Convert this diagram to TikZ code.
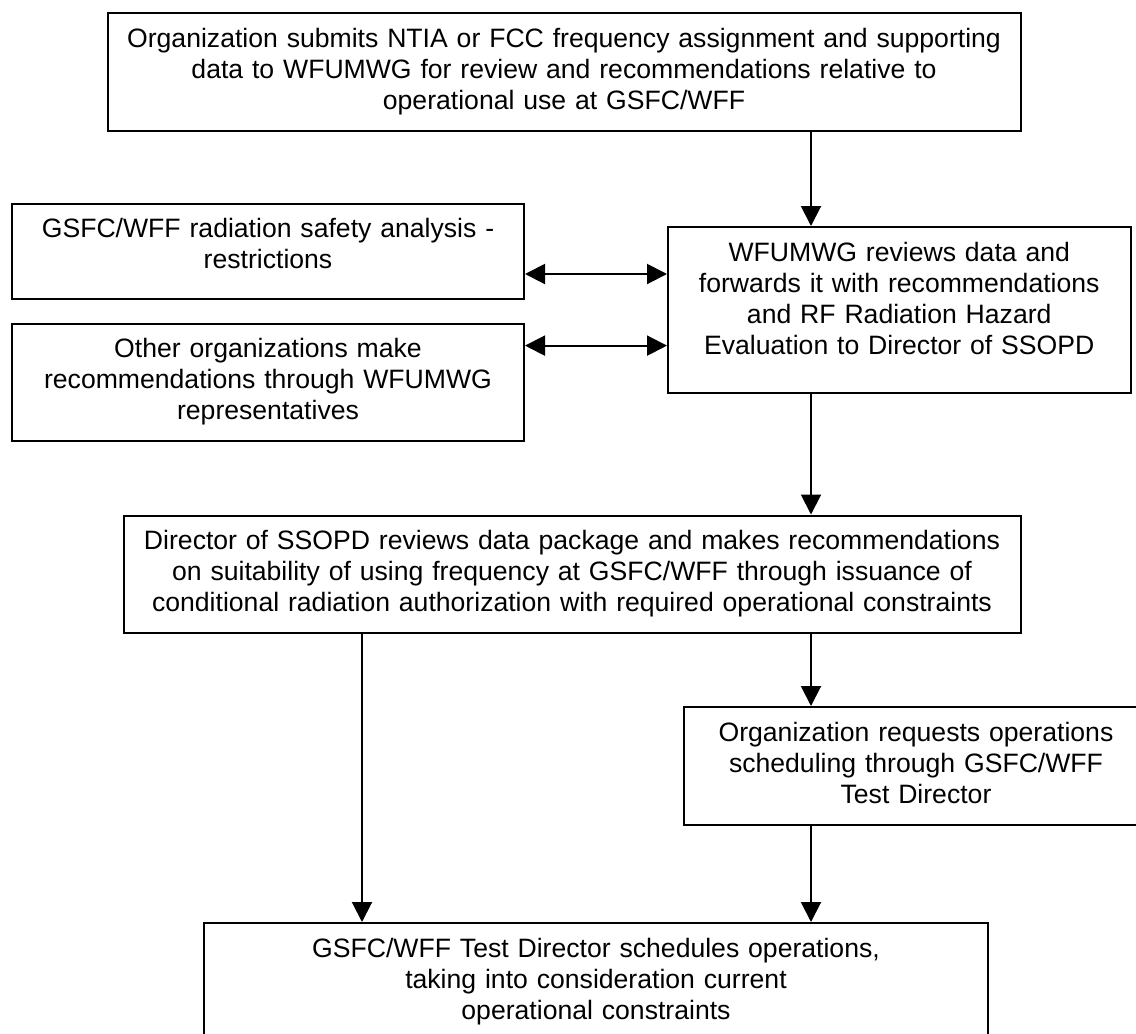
\documentclass[tikz,border=0pt]{standalone}
\usepackage{fontspec}
\setmainfont{Liberation Sans}
\usetikzlibrary{arrows.meta}
\tikzset{
    flowbox/.style 2 args={draw, line width=1pt, anchor=north west, inner sep=0pt,
        align=center, text width=#1, text height=17pt, text depth=#2-17pt}
}
\begin{document}
\begin{tikzpicture}[x=0.5pt, y=-0.5pt, line width=1pt, >={Triangle[length=10pt, width=10pt]},
    every node/.style={font=\fontsize{13.3}{15.5}\selectfont}]
    \useasboundingbox (0,0) rectangle (1136,1034);
    \node[flowbox={456.5pt}{59pt}] (submit) at (106.5,12) {Organization submits NTIA or FCC frequency assignment and supporting\\ data to WFUMWG for review and recommendations relative to\\ operational use at GSFC/WFF};
    \node[flowbox={256pt}{47.5pt}] (safety) at (11,202.5) {GSFC/WFF radiation safety analysis -\\ restrictions};
    \node[flowbox={231.25pt}{83pt}] (review) at (667,226) {WFUMWG reviews data and\\ forwards it with recommendations\\ and RF Radiation Hazard\\ Evaluation to Director of SSOPD};
    \node[flowbox={256pt}{58.75pt}] (others) at (11,322.5) {Other organizations make\\ recommendations through WFUMWG\\ representatives};
    \node[flowbox={448.5pt}{58.75pt}] (director) at (122.5,514.5) {Director of SSOPD reviews data package and makes recommendations\\ on suitability of using frequency at GSFC/WFF through issuance of\\ conditional radiation authorization with required operational constraints};
    \node[flowbox={232.5pt}{59pt}] (request) at (682.5,706) {Organization requests operations\\ scheduling through GSFC/WFF\\ Test Director};
    \node[flowbox={392pt}{59pt}] (schedule) at (203,922) {GSFC/WFF Test Director schedules operations,\\ taking into consideration current\\ operational constraints};
    \coordinate (colL) at (362,0);
    \coordinate (colR) at (811,0);
    \coordinate (rowA) at (0,274);
    \coordinate (rowB) at (0,345.6);
    \foreach \from/\to in {submit/review, review/director, director/request, request/schedule}
        \draw[->] (\from.south -| colR) -- (\to.north -| colR);
    \draw[->] (director.south -| colL) -- (schedule.north -| colL);
    \foreach \from/\row in {safety/rowA, others/rowB}
        \draw[<->] (\from.east |- \row) -- (review.west |- \row);
\end{tikzpicture}
\end{document}
